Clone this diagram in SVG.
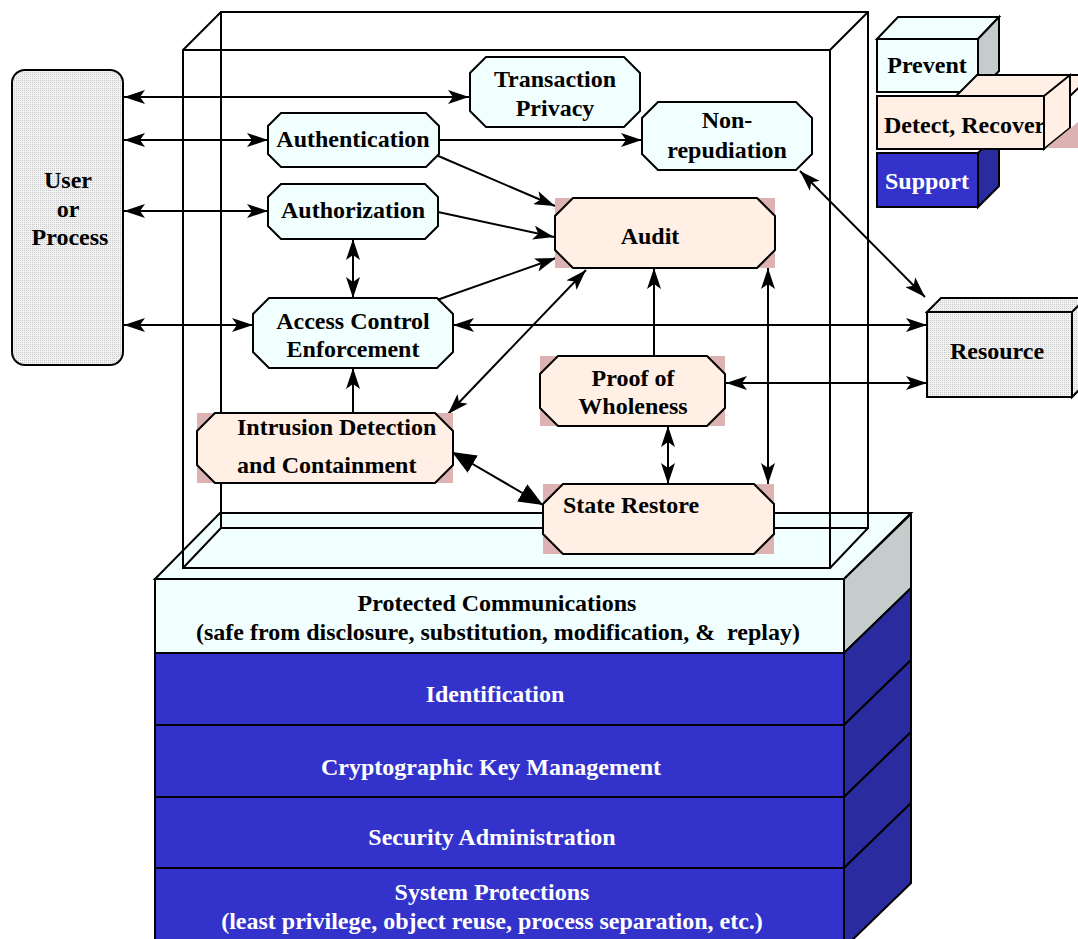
<svg xmlns="http://www.w3.org/2000/svg" width="1078" height="939" viewBox="0 0 1078 939">
<style>
.t{font-family:"Liberation Serif","Times New Roman",serif;font-weight:bold;font-size:24px;text-anchor:middle;fill:#000}
.s{text-anchor:start}
.w{fill:#fff}
.ln{stroke:#000;stroke-width:2;fill:none}
.cy{fill:#F2FFFF;stroke:#000;stroke-width:2}
.pe{fill:#FFEFE4;stroke:#000;stroke-width:2}
.pk{fill:#DDB2B2}
.bl{fill:#3333CC;stroke:#000;stroke-width:2}
.bs{fill:#2B2BA0;stroke:#000;stroke-width:2}
.gs{fill:#C4CCCC;stroke:#000;stroke-width:2}
.dt{fill:url(#dots);stroke:#000;stroke-width:2}
.ar{stroke:#000;stroke-width:2;fill:none;marker-end:url(#ah)}
.ab{stroke:#000;stroke-width:2;fill:none;marker-start:url(#ah);marker-end:url(#ah)}
.abig{stroke:#000;stroke-width:2;fill:none;marker-start:url(#big);marker-end:url(#big)}
</style>
<defs>
<pattern id="dots" width="2" height="2" patternUnits="userSpaceOnUse">
<rect width="2" height="2" fill="#F2F2F2"/>
<rect width="1" height="1" fill="#C8C8C8"/>
</pattern>
<marker id="ah" viewBox="0 0 21 14" refX="21" refY="7" markerWidth="21" markerHeight="14" markerUnits="userSpaceOnUse" orient="auto-start-reverse">
<path d="M0,0 L21,7 L0,14 L5,7 Z" fill="#000"/>
</marker>
<marker id="big" viewBox="0 0 24 20" refX="24" refY="10" markerWidth="24" markerHeight="20" markerUnits="userSpaceOnUse" orient="auto-start-reverse">
<path d="M0,0 L24,10 L0,20 Z" fill="#000"/>
</marker>
</defs>
<rect width="1078" height="939" fill="#fff"/>

<g id="base">
<polygon points="155,579 220,513 911,513 844,579" class="cy"/>
<rect x="155" y="579" width="689" height="74" class="cy"/>
<polygon points="844,579 911,514 911,588 844,653" class="gs"/>
<rect x="155" y="653" width="689" height="72" class="bl"/>
<polygon points="844,653 911,588 911,660 844,725" class="bs"/>
<rect x="155" y="725" width="689" height="72" class="bl"/>
<polygon points="844,725 911,660 911,732 844,797" class="bs"/>
<rect x="155" y="797" width="689" height="71" class="bl"/>
<polygon points="844,797 911,732 911,803 844,868" class="bs"/>
<rect x="155" y="868" width="689" height="80" class="bl"/>
<polygon points="844,868 911,803 911,883 844,948" class="bs"/>
<text x="497" y="611" class="t">Protected Communications</text>
<text x="498" y="640" class="t" xml:space="preserve">(safe from disclosure, substitution, modification, &amp;  replay)</text>
<text x="495" y="702" class="t w">Identification</text>
<text x="491" y="775" class="t w">Cryptographic Key Management</text>
<text x="492" y="845" class="t w">Security Administration</text>
<text x="492" y="900" class="t w">System Protections</text>
<text x="492" y="929" class="t w">(least privilege, object reuse, process separation, etc.)</text>
</g>

<g id="frame" class="ln">
<path d="M221,12 H868 V528 H221 Z"/>
<path d="M183,50 H830 V568 H183 Z"/>
<path d="M183,50 L221,12 M830,50 L868,12 M183,568 L221,528 M830,568 L868,528"/>
</g>

<g id="legend">
<polygon points="877,39 898,17 999,17 978,39" class="cy"/>
<polygon points="978,39 999,17 999,71 978,92" class="gs"/>
<rect x="877" y="39" width="101" height="53" class="cy"/>
<text x="927" y="73" class="t">Prevent</text>
<polygon points="978,153 999,132 999,186 978,207" class="bs"/>
<rect x="877" y="153" width="101" height="54" class="bl"/>
<text x="927" y="189" class="t w">Support</text>
<polygon points="977,75 1092,75 1070,96 956,96" class="pe"/>
<polygon points="1044,96 1070,75 1070,128 1044,149" class="pe"/>
<polygon points="1046,148 1078,148 1078,122" class="pk"/>
<rect x="877" y="96" width="167" height="53" class="pe"/>
<text x="884" y="133" class="t s">Detect, Recover</text>
</g>

<g id="user">
<rect x="12" y="70" width="111" height="295" rx="13" class="dt"/>
<text x="68" y="188" class="t">User</text>
<text x="68" y="217" class="t">or</text>
<text x="70" y="245" class="t">Process</text>
</g>

<g id="resource">
<polygon points="927,312 941,298 1092,298 1078,312" class="dt"/>
<polygon points="1072,312 1086,298 1086,383 1072,397" class="dt"/>
<rect x="927" y="312" width="145" height="85" class="dt"/>
<text x="997" y="359" class="t">Resource</text>
</g>

<g id="connectors">
<line x1="124" y1="97" x2="469" y2="97" class="ab"/>
<line x1="124" y1="140" x2="268" y2="140" class="ab"/>
<line x1="124" y1="211" x2="268" y2="211" class="ab"/>
<line x1="124" y1="325" x2="253" y2="325" class="ab"/>
<line x1="439" y1="140" x2="642" y2="140" class="ar"/>
<line x1="436" y1="155" x2="555" y2="206" class="ar"/>
<line x1="438" y1="212" x2="554" y2="237" class="ar"/>
<line x1="437" y1="300" x2="556" y2="258" class="ar"/>
<line x1="353" y1="239" x2="353" y2="298" class="ab"/>
<line x1="453" y1="325" x2="927" y2="325" class="ab"/>
<line x1="353" y1="413" x2="353" y2="368" class="ar"/>
<line x1="586" y1="270" x2="448" y2="414" class="ab"/>
<line x1="654" y1="356" x2="654" y2="268" class="ar"/>
<line x1="768" y1="268" x2="768" y2="484" class="ab"/>
<line x1="726" y1="383" x2="927" y2="383" class="ab"/>
<line x1="668" y1="426" x2="668" y2="484" class="ab"/>
<line x1="452" y1="452" x2="543" y2="505" class="abig"/>
<line x1="800" y1="171" x2="925" y2="297" class="ab"/>
</g>

<g id="transaction-privacy">
<polygon points="486,57 624,57 640,73 640,111 624,127 486,127 470,111 470,73" class="cy"/>
<text x="555" y="87" class="t">Transaction</text>
<text x="555" y="116" class="t">Privacy</text>
</g>
<g id="authentication">
<polygon points="281,113 426,113 439,126 439,154 426,167 281,167 268,154 268,126" class="cy"/>
<text x="353" y="147" class="t">Authentication</text>
</g>
<g id="non-repudiation">
<polygon points="658,102 796,102 812,118 812,154 796,170 658,170 642,154 642,118" class="cy"/>
<text x="727" y="128" class="t">Non-</text>
<text x="727" y="158" class="t">repudiation</text>
</g>
<g id="authorization">
<polygon points="281,184 425,184 438,197 438,226 425,239 281,239 268,226 268,197" class="cy"/>
<text x="353" y="218" class="t">Authorization</text>
</g>
<g id="access-control">
<polygon points="269,298 437,298 453,314 453,352 437,368 269,368 253,352 253,314" class="cy"/>
<text x="353" y="329" class="t">Access Control</text>
<text x="353" y="357" class="t">Enforcement</text>
</g>
<g id="audit">
<rect x="555" y="198" width="220" height="70" class="pk"/>
<polygon points="573,198 757,198 775,216 775,250 757,268 573,268 555,250 555,216" class="pe"/>
<text x="650" y="244" class="t">Audit</text>
</g>
<g id="intrusion">
<rect x="197" y="413" width="256" height="70" class="pk"/>
<polygon points="215,413 435,413 453,431 453,465 435,483 215,483 197,465 197,431" class="pe"/>
<text x="237" y="435" class="t s">Intrusion Detection</text>
<text x="237" y="473" class="t s">and Containment</text>
</g>
<g id="proof-of-wholeness">
<rect x="540" y="356" width="185" height="70" class="pk"/>
<polygon points="558,356 707,356 725,374 725,408 707,426 558,426 540,408 540,374" class="pe"/>
<text x="633" y="386" class="t">Proof of</text>
<text x="633" y="414" class="t">Wholeness</text>
</g>
<g id="state-restore">
<rect x="543" y="484" width="231" height="70" class="pk"/>
<polygon points="563,484 754,484 774,504 774,534 754,554 563,554 543,534 543,504" class="pe"/>
<text x="563" y="513" class="t s">State Restore</text>
</g>
</svg>
